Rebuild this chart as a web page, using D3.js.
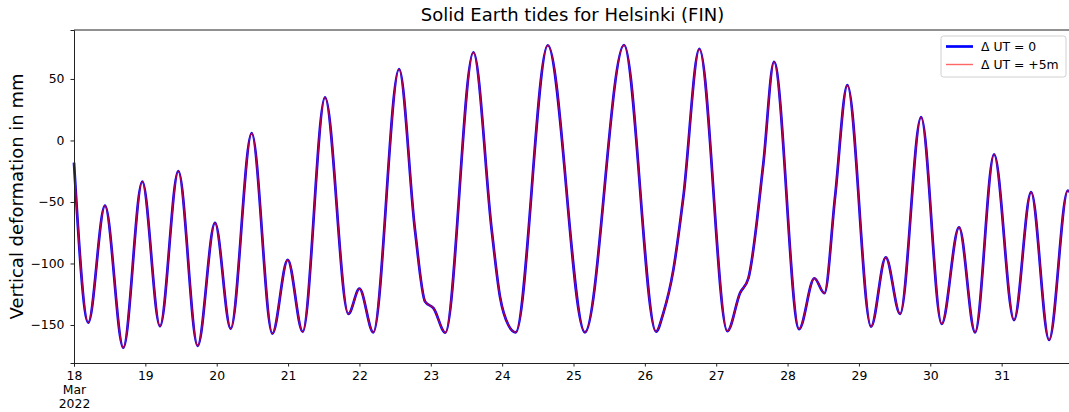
<!DOCTYPE html>
<html>
<head>
<meta charset="utf-8">
<script src="https://cdn.jsdelivr.net/npm/d3@7"></script>
<style>
  body { margin: 0; background: #fff; }
  text { font-family: "DejaVu Sans", sans-serif; fill: #000; }
</style>
</head>
<body>
<div id="chart"></div>
<script>
// Data: day offsets from 18 Mar 2022 00:00 UTC and vertical deformation (mm)
const dayOffsets = [0.000, 0.200, 0.434, 0.691, 0.957, 1.205, 1.462, 1.733, 1.976, 2.196,
  2.490, 2.780, 2.995, 3.205, 3.518, 3.845, 4.000, 4.195, 4.555, 4.779,
  4.920, 5.040, 5.204, 5.597, 5.854, 5.970, 6.087, 6.190, 6.640, 7.160,
  7.708, 8.157, 8.258, 8.400, 8.540, 8.764, 9.156, 9.334, 9.451, 9.661,
  9.810, 10.161, 10.376, 10.516, 10.666, 10.838, 11.170, 11.376, 11.577, 11.871,
  12.160, 12.403, 12.628, 12.894, 13.174, 13.413, 13.665, 13.927, 13.960];
const deformUT0 = [-18, -148, -53, -168.5, -33.5, -151, -25, -167, -67, -153,
  6, -157, -97, -155.5, 35, -141, -120.5, -156, 58, -73,
  -131, -136.5, -156.3, 71.7, -73, -127, -150, -156, 77.4, -156,
  77.6, -155.4, -140.5, -105, -45.7, 74.4, -155, -124, -112, -18.5,
  64, -153.3, -112, -124.2, -45.7, 45, -151.4, -95, -141, 19,
  -149.2, -70.6, -156, -11.3, -146, -42, -162.2, -40.8, -42];
// the +5 min curve sits on top of the first one at this scale
const deformUT5m = deformUT0;

const seriesNames = ["\u0394 UT = 0", "\u0394 UT = +5m"];
const dayTicks = [18, 19, 20, 21, 22, 23, 24, 25, 26, 27, 28, 29, 30, 31];
const yTicks = [-150, -100, -50, 0, 50];

const start = new Date(Date.UTC(2022, 2, 18));
const toDate = d => new Date(start.getTime() + d * 86400000);

const series = [
  { name: seriesNames[0], values: deformUT0, color: "#0000ff", width: 2.7, opacity: 1 },
  { name: seriesNames[1], values: deformUT5m, color: "#ff0000", width: 1.4, opacity: 0.7 }
];

// chart size and margins
const margin = { top: 30, right: 0, bottom: 49, left: 74 };
const fullW = 1069, fullH = 412;
const width = 999;   // plot runs a little past the right edge of the picture
const height = fullH - margin.top - margin.bottom;

const svg = d3.select("#chart")
  .append("svg")
    .attr("width", fullW)
    .attr("height", fullH)
  .append("g")
    .attr("transform", `translate(${margin.left},${margin.top})`);

const xScale = d3.scaleUtc()
  .domain([start, toDate(14)])
  .range([0, width]);

const yScale = d3.scaleLinear()
  .domain([-180.9, 89.8])
  .range([height, 0]);

// lines
const line = d3.line()
  .x((d, i) => xScale(toDate(dayOffsets[i])))
  .y(d => yScale(d))
  .curve(d3.curveMonotoneX);

series.forEach(s => {
  svg.append("path")
    .datum(s.values)
    .attr("fill", "none")
    .attr("stroke", s.color)
    .attr("stroke-width", s.width)
    .attr("stroke-opacity", s.opacity)
    .attr("stroke-linejoin", "round")
    .attr("d", line);
});

// axes
const xAxis = svg.append("g")
  .attr("transform", "translate(0," + height + ")")
  .call(d3.axisBottom(xScale)
    .tickValues(dayTicks.map(d => toDate(d - 18)))
    .tickSize(3.5)
    .tickPadding(5)
    .tickFormat(d => d.getUTCDate()));
xAxis.selectAll("text").style("font-size", "12.4px");
xAxis.select(".tick text")
  .each(function() {
    const t = d3.select(this);
    t.append("tspan").attr("x", 0).attr("dy", "1.12em").text("Mar");
    t.append("tspan").attr("x", 0).attr("dy", "1.12em").text("2022");
  });

const yAxis = svg.append("g")
  .call(d3.axisLeft(yScale)
    .tickValues(yTicks)
    .tickSize(3.5)
    .tickPadding(6));
yAxis.selectAll("text").style("font-size", "12.4px");

[xAxis, yAxis].forEach(a => {
  a.select(".domain").attr("stroke-width", 1).attr("stroke", "#222");
  a.selectAll(".tick line").attr("stroke-width", 1).attr("stroke", "#222");
});

// top and right spines
svg.append("line")
  .attr("x1", 0).attr("x2", width).attr("y1", 0).attr("y2", 0)
  .attr("stroke", "#222").attr("stroke-width", 1);
svg.append("line")
  .attr("x1", width).attr("x2", width).attr("y1", 0).attr("y2", height)
  .attr("stroke", "#222").attr("stroke-width", 1);

// title and y label
svg.append("text")
  .attr("x", 498.5)
  .attr("y", -9.5)
  .style("text-anchor", "middle")
  .style("font-size", "18px")
  .text("Solid Earth tides for Helsinki (FIN)");

svg.append("text")
  .attr("transform", "rotate(-90)")
  .attr("x", 0 - (height / 2))
  .attr("y", 23 - margin.left)
  .style("text-anchor", "middle")
  .style("font-size", "18px")
  .text("Vertical deformation in mm");

// legend
const legend = svg.append("g")
  .attr("transform", "translate(867,6)");
legend.append("rect")
  .attr("width", 125).attr("height", 41).attr("rx", 2.5)
  .attr("fill", "#fff").attr("fill-opacity", 0.8)
  .attr("stroke", "#d0d0d0").attr("stroke-width", 1);
series.forEach((s, i) => {
  legend.append("line")
    .attr("x1", 5).attr("x2", 32)
    .attr("y1", 10.5 + i * 18).attr("y2", 10.5 + i * 18)
    .attr("stroke", s.color)
    .attr("stroke-width", s.width)
    .attr("stroke-opacity", i === 1 ? 0.6 : 1);
  legend.append("text")
    .attr("x", 40)
    .attr("y", 15 + i * 18)
    .style("font-size", "12.4px")
    .text(s.name);
});
</script>
</body>
</html>
